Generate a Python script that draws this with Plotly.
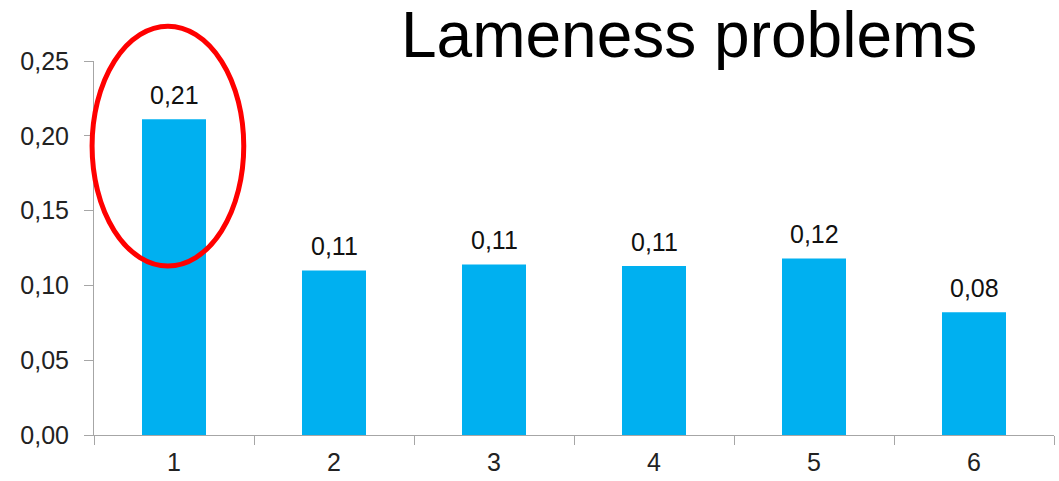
import plotly.graph_objects as go

# Lameness problem scores per group
categories = ["1", "2", "3", "4", "5", "6"]
scores = [0.211, 0.110, 0.114, 0.113, 0.118, 0.082]

title_text = "Lameness problems"
bar_color = "#00B0F0"
axis_color = "#A6A6A6"
font_family = "Liberation Sans, Arial, sans-serif"

fig = go.Figure()
fig.add_trace(go.Bar(
    x=categories,
    y=scores,
    marker=dict(color=bar_color, line=dict(width=0)),
    width=0.4,
    hoverinfo="skip",
))

# value labels above each bar, decimal comma (x given as category index)
for i, v in enumerate(scores):
    fig.add_annotation(
        x=i, y=v, xref="x", yref="y",
        text=f"{v:.2f}".replace(".", ","),
        showarrow=False, yanchor="bottom", yshift=8,
        font=dict(family=font_family, size=25, color="#111111"),
    )

# chart title
fig.add_annotation(
    x=0.62, y=1.0, xref="paper", yref="paper",
    text=title_text, showarrow=False,
    xanchor="center", yanchor="bottom", yshift=-12,
    font=dict(family=font_family, size=64, color="#000000"),
)

# red ellipse highlighting the first group
fig.add_shape(
    type="circle", xref="paper", yref="paper",
    x0=-0.002, x1=0.156, y0=0.452, y1=1.093,
    line=dict(color="#FF0000", width=5),
    fillcolor="rgba(0,0,0,0)",
    layer="above",
)

fig.update_layout(
    width=1059, height=481,
    margin=dict(l=94, r=5, t=61, b=44),
    paper_bgcolor="white", plot_bgcolor="white",
    separators=",.",
    showlegend=False,
    font=dict(family=font_family, size=25, color="#222222"),
)
fig.update_xaxes(
    type="category",
    range=[-0.5, len(categories) - 0.5],
    tickson="boundaries",
    ticks="outside", ticklen=9, tickcolor=axis_color, tickwidth=1,
    showline=True, linecolor=axis_color, linewidth=1,
    showgrid=False, zeroline=False,
    ticklabelstandoff=5,
    tickfont=dict(size=25, color="#222222"),
)
fig.update_yaxes(
    range=[0, 0.25], dtick=0.05, tick0=0, tickformat=".2f",
    ticks="outside", ticklen=9, tickcolor=axis_color, tickwidth=1,
    showline=True, linecolor=axis_color, linewidth=1,
    showgrid=False, zeroline=False,
    ticklabelstandoff=10,
    tickfont=dict(size=25, color="#222222"),
)

fig.write_html("out.html")
